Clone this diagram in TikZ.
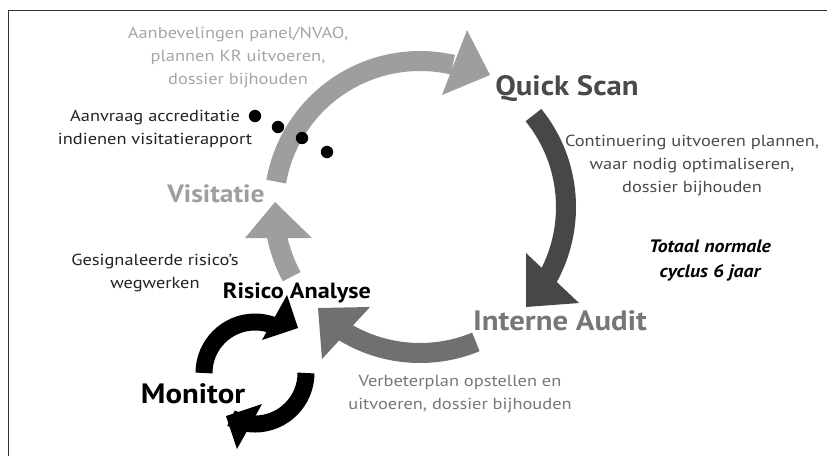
\documentclass[tikz,border=0pt]{standalone}
\usepackage{fontspec}
\setmainfont{PT Sans}[FakeStretch=1.15]
\newfontfamily\bigfont{PT Sans}[FakeStretch=1.1]
\usetikzlibrary{calc}
\definecolor{lgray}{HTML}{9E9E9E}
\definecolor{ltext}{HTML}{A6A6A6}
\definecolor{dgray}{HTML}{474747}
\definecolor{dtext}{HTML}{4A4A4A}
\definecolor{mgray}{HTML}{707070}
\definecolor{mtext}{HTML}{777777}
\definecolor{ink}{HTML}{222222}
\tikzset{
  small/.style={font=\fontsize{16}{23}\selectfont, align=center, inner sep=0pt},
  big/.style={font=\bigfont\fontsize{28}{30}\selectfont\bfseries, inner sep=0pt, anchor=base},
  band/.style={line width=20pt, line cap=butt},
  mband/.style={line width=17pt, line cap=butt},
}
\begin{document}
\begin{tikzpicture}[x=1pt,y=1pt]
\useasboundingbox (0,0) rectangle (827,-456);
% frame (top and left edges visible)
\draw[line width=1.6pt, color=black!80] (827,-10.5) -- (8.5,-10.5) -- (8.5,-456);
% centre of the big cycle
\coordinate (C) at (420,-207);
% top arc: Visitatie -> Quick Scan
\draw[band, lgray] ($(C)+(170:146)$) arc[start angle=170, end angle=77, radius=146];
\fill[lgray] (467,-30) -- (490,-75) -- (442,-95) -- cycle;
% right arc: Quick Scan -> Interne Audit
\draw[band, dgray] ($(C)+(39:146)$) arc[start angle=39, end angle=-30, radius=146];
\fill[dgray] (526,-253) -- (579,-303) -- (526,-307) -- cycle;
% bottom arc: Interne Audit -> Risico Analyse
\draw[band, mgray] ($(C)+(-67.5:146)$) arc[start angle=-67.5, end angle=-122, radius=146];
\fill[mgray] (318,-308) -- (370,-307) -- (322,-359) -- cycle;
% left arc: Risico Analyse -> Visitatie
\draw[band, lgray] ($(C)+(208.5:146)$) arc[start angle=208.5, end angle=191, radius=146];
\fill[lgray] (275,-202) -- (245,-238) -- (312,-238) -- cycle;
% monitor arrows
\coordinate (M) at (255,-373);
\draw[mband, black] ($(M)+(180:51)$) arc[start angle=180, end angle=62, radius=51];
\fill[black] (287,-295) -- (298,-328) -- (262,-340) -- cycle;
\begin{scope}[rotate around={180:(262,-372)}]
\draw[mband, black] ($(M)+(180:51)$) arc[start angle=180, end angle=62, radius=51];
\fill[black] (287,-295) -- (298,-328) -- (262,-340) -- cycle;
\end{scope}
% dots
\foreach \p [count=\i] in {(255,-116),(278,-127),(302,-138),(327,-152)}
  \fill[black] \p circle[radius=6.2];
% labels
\node[small, text=ltext] (aanbev) at (238,-57) {Aanbevelingen panel/NVAO,\\plannen KR uitvoeren,\\dossier bijhouden};
\node[small, text=ink] (aanvraag) at (155,-129) {Aanvraag accreditatie\\indienen visitatierapport};
\node[small, text=ink] (gesign) at (155,-273) {Gesignaleerde risico’s\\wegwerken};
\node[small, text=dtext] (cont) at (692,-165) {Continuering uitvoeren plannen,\\waar nodig optimaliseren,\\dossier bijhouden};
\node[small, text=mtext] (verbeter) at (460,-394) {Verbeterplan opstellen en\\uitvoeren, dossier bijhouden};
\node[inner sep=0pt, align=center, font=\bigfont\fontsize{18}{25}\selectfont\bfseries\itshape] (totaal) at (710,-260.5) {Totaal normale\\cyclus 6 jaar};
\node[big, text=lgray, font=\bigfont\fontsize{25}{27}\selectfont\bfseries] (visitatie) at (216,-202) {Visitatie};
\node[big, text=dtext] (quick) at (567,-95) {Quick Scan};
\node[big, text=mtext] (interne) at (560,-330) {Interne Audit};
\node[big, text=black, font=\bigfont\fontsize{22}{24}\selectfont\bfseries] (risico) at (297,-298) {Risico Analyse};
\node[big, text=black] (monitor) at (193,-403) {Monitor};
\end{tikzpicture}
\end{document}
